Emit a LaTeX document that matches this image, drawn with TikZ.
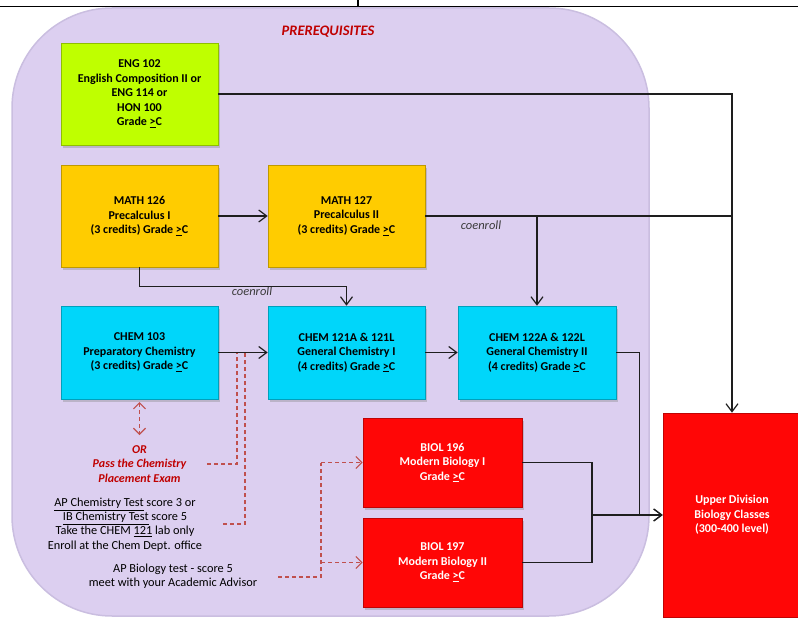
\documentclass[tikz,border=0pt]{standalone}
\usepackage{fontspec}
\setmainfont{Carlito}
\usetikzlibrary{arrows.meta,shadows,calc}
\definecolor{lav}{RGB}{220,207,240}
\definecolor{lavb}{RGB}{202,190,224}
\definecolor{limeb}{RGB}{191,255,0}
\definecolor{goldb}{RGB}{255,204,0}
\definecolor{cyanb}{RGB}{0,214,250}
\definecolor{redb}{RGB}{255,6,6}
\definecolor{dred}{RGB}{192,80,77}
\definecolor{tred}{RGB}{192,0,0}
\definecolor{lnc}{RGB}{30,30,30}
\definecolor{coen}{RGB}{60,60,60}
\begin{document}
\begin{tikzpicture}[x=1pt,y=-1pt,
  course/.style={rectangle, draw=#1!75!black, line width=0.6pt, fill=#1, align=center, inner sep=0pt,
    font=\bfseries\fontsize{12}{14.5}\selectfont,
    drop shadow={shadow xshift=2pt,shadow yshift=-2.5pt,opacity=0.35}},
  conn/.style={draw=lnc, line width=1.2pt, -{Straight Barb[length=8pt,width=12pt,line width=1.2pt]}},
  plain/.style={draw=lnc, line width=1.2pt},
  dline/.style={draw=dred, line width=1.2pt, dash pattern=on 4pt off 3pt},
  darrow/.style={dline, -{Straight Barb[length=6pt,width=12pt,line width=1.2pt]}},
  dboth/.style={dline, {Straight Barb[length=6pt,width=12pt,line width=1.2pt]}-{Straight Barb[length=6pt,width=12pt,line width=1.2pt]}},
  coenlbl/.style={font=\itshape\fontsize{12.5}{14}\selectfont, text=coen, inner sep=0pt},
  note/.style={align=center, inner sep=0pt, font=\fontsize{12.3}{14.3}\selectfont, text=black},
  ortext/.style={align=center, inner sep=0pt, font=\bfseries\itshape\fontsize{12}{14.5}\selectfont, text=tred}
]
\useasboundingbox (0,0) rectangle (798,618);
% top rule
\draw[line width=1pt] (0,6.5) -- (358,6.5);
\draw[line width=1.8pt] (358,6.5) -- (798,6.5);
\draw[line width=1.2pt] (358,0) -- (358,6.5);
% background panel
\draw[fill=lav, draw=lavb, line width=1.5pt, rounded corners=100pt] (12,8) rectangle (649,616);
\node[font=\bfseries\itshape\fontsize{14.5}{16}\selectfont, text=tred] (title) at (328,32) {PREREQUISITES};

% course boxes
\node[course=limeb, minimum width=157pt, minimum height=102pt] (eng) at (139.5,94)
  {ENG 102\\English Composition II or\\ENG 114 or\\HON 100\\Grade \underline{>}C};
\node[course=goldb, minimum width=157pt, minimum height=102pt] (m126) at (139.5,216)
  {MATH 126\\Precalculus I\\(3 credits) Grade \underline{>}C};
\node[course=goldb, minimum width=157pt, minimum height=102pt] (m127) at (346.5,216)
  {MATH 127\\Precalculus II\\(3 credits) Grade \underline{>}C};
\node[course=cyanb, minimum width=157pt, minimum height=93pt] (c103) at (139.5,352.5)
  {CHEM 103\\Preparatory Chemistry\\(3 credits) Grade \underline{>}C};
\node[course=cyanb, minimum width=157pt, minimum height=93pt] (c121) at (346.5,352.5)
  {CHEM 121A \& 121L\\General Chemistry I\\(4 credits) Grade \underline{>}C};
\node[course=cyanb, minimum width=158pt, minimum height=93pt] (c122) at (537,352.5)
  {CHEM 122A \& 122L\\General Chemistry II\\(4 credits) Grade \underline{>}C};
\node[course=redb, text=white, minimum width=159pt, minimum height=89pt] (b196) at (442.5,462.5)
  {BIOL 196\\Modern Biology I\\Grade \underline{>}C};
\node[course=redb, text=white, minimum width=159pt, minimum height=89pt] (b197) at (442.5,562.5)
  {BIOL 197\\Modern Biology II\\Grade \underline{>}C};
\node[course=redb, text=white, minimum width=138pt, minimum height=204pt] (upper) at (732,515)
  {Upper Division\\Biology Classes\\(300-400 level)};

% labels
\node[coenlbl] (ce1) at (252,291) {coenroll};
\node[coenlbl] (ce2) at (481,225) {coenroll};
\node[ortext] (ortx) at (139.5,464) {OR\\Pass the Chemistry\\Placement Exam};
\node[note] (apchem) at (125,524.5)
  {\underline{AP Chemistry Test} score 3 or\\\underline{IB Chemistry Test} score 5\\Take the CHEM \underline{121} lab only\\Enroll at the Chem Dept. office};
\node[note] (apbio) at (173,576.5) {AP Biology test - score 5\\meet with your Academic Advisor};

% solid connectors
\draw[conn] (eng.east) -- (eng.east -| upper.north) -- (upper.north);
\draw[conn] (m126) -- (m127);
\draw[plain] (m127.east) -- (m127.east -| upper.north);
\draw[conn] (m127.east -| c122.north) -- (c122.north);
\draw[conn] (m126.south) -- ++(0,19.5) -| (c121.north);
\draw[conn] (c103) -- (c121);
\draw[conn] (c121) -- (c122);
\draw[conn] (c122.east) -- ++(23,0) |- (upper.west);
\coordinate (bx) at (592,515);
\draw[plain] (b196.east) -| (bx) |- (b197.east);
\draw[conn] (bx) -- (upper.west);

% dashed connectors
\coordinate (oa) at (139.5,402);
\coordinate (ob) at (139.5,435);
\draw[dboth] (oa) -- (ob);
\coordinate (d1s) at (207,464);
\coordinate (d1c) at (237,464);
\draw[dline] (d1s) -- (d1c) -- (d1c |- c103.east);
\coordinate (d2s) at (223,524);
\coordinate (d2c) at (245,524);
\draw[dline] (d2s) -- (d2c) -- (d2c |- c103.east);
\coordinate (d3s) at (278,577);
\coordinate (d3c) at (321,577);
\draw[dline] (d3s) -- (d3c) -- (d3c |- b196.west);
\draw[darrow] (d3c |- b196.west) -- (b196.west);
\draw[darrow] (d3c |- b197.west) -- (b197.west);
\end{tikzpicture}
\end{document}
